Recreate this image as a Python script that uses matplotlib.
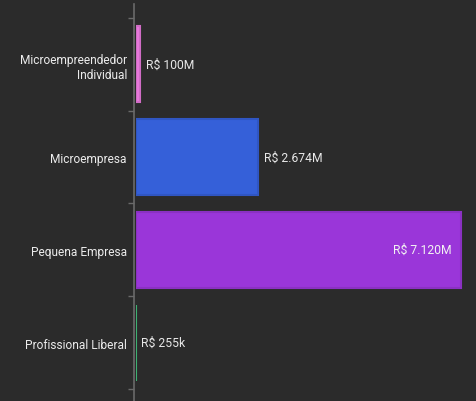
import matplotlib.pyplot as plt
import matplotlib.colors as mcolors

categories = ['Microempreendedor\nIndividual', 'Microempresa', 'Pequena Empresa', 'Profissional Liberal']
values = [100e6, 2674e6, 7120e6, 255e3]  # R$
labels = ['R$ 100M', 'R$ 2.674M', 'R$ 7.120M', 'R$ 255k']
colors = ['#e879dc', '#3560d9', '#9a36d9', '#44c47e']

BG = '#2b2b2b'
plt.rcParams['font.family'] = ['Roboto', 'DejaVu Sans']

fig = plt.figure(figsize=(4.77, 4.02), dpi=100, facecolor=BG)
ax = fig.add_axes([135.5 / 477, 0.0, 1 - 135.5 / 477, 1 - 5 / 402])
ax.set_facecolor(BG)

# spine setup first: set_position resets the tick formatting
for s in ['top', 'right', 'bottom']:
    ax.spines[s].set_visible(False)
ax.spines['left'].set_position(('outward', 1.2))
ax.spines['left'].set_color('#6a6a6a')
ax.spines['left'].set_linewidth(1.2)
ax.spines['left'].set_zorder(1)

y = list(range(len(categories)))
edge = [mcolors.to_hex([c * 0.9 for c in mcolors.to_rgb(col)]) for col in colors]
ax.barh(y, values, height=0.82, color=colors, edgecolor=edge, linewidth=1.5, zorder=3)

xmax = max(values) * 1.049
ax.set_xlim(0, xmax)
ax.set_ylim(3.63, -0.65)

for i, (v, lab) in enumerate(zip(values, labels)):
    if v > 0.5 * max(values):
        ax.text(v - xmax * 0.027, i, lab, va='center', ha='right', color='#f2f2f2', fontsize=8.7, zorder=4)
    else:
        ax.text(v + xmax * 0.017, i, lab, va='center', ha='left', color='#e8e8e8', fontsize=8.7, zorder=4)

ax.set_yticks(y)
ax.set_yticklabels(categories, fontsize=8.6, color='#ececec')
ax.tick_params(axis='y', which='major', length=0, pad=5)
ax.set_yticks([-0.5, 0.5, 1.5, 2.5, 3.5], minor=True)
ax.tick_params(axis='y', which='minor', length=4, color='#6a6a6a', width=1)
ax.set_xticks([])

fig.savefig('out.png', dpi=100, facecolor=BG)
